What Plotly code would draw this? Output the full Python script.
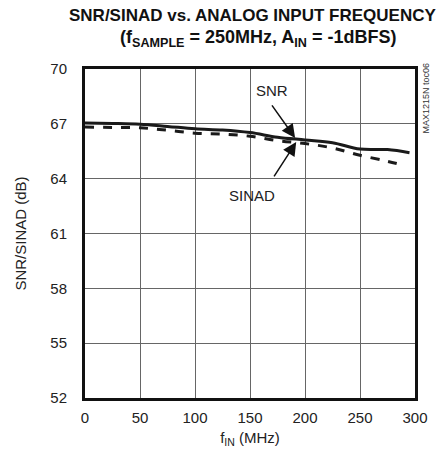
import plotly.graph_objects as go

# Data
freq_snr = [0, 25, 50, 75, 100, 125, 150, 175, 200, 225, 250, 275, 295]
snr = [67.04, 67.02, 66.98, 66.86, 66.73, 66.66, 66.52, 66.27, 66.12, 65.97, 65.62, 65.59, 65.42]
freq_sinad = [0, 25, 50, 75, 100, 125, 150, 175, 200, 225, 250, 275, 290]
sinad = [66.82, 66.80, 66.78, 66.65, 66.49, 66.44, 66.32, 66.08, 65.92, 65.68, 65.28, 64.95, 64.73]
x_ticks = [0, 50, 100, 150, 200, 250, 300]
y_ticks = [52, 55, 58, 61, 64, 67, 70]

FONT = "Liberation Sans, Arial, sans-serif"

fig = go.Figure()
fig.add_trace(go.Scatter(x=freq_snr, y=snr, mode="lines", name="SNR",
                         line=dict(color="#1a1a1a", width=3, shape="spline")))
fig.add_trace(go.Scatter(x=freq_sinad, y=sinad, mode="lines", name="SINAD",
                         line=dict(color="#1a1a1a", width=3, dash="dash", shape="spline")))

# Labels
fig.add_annotation(x=170, y=68.85, text="SNR", showarrow=False,
                   font=dict(family=FONT, size=15, color="#222"))
fig.add_annotation(x=152, y=63.1, text="SINAD", showarrow=False,
                   font=dict(family=FONT, size=15, color="#222"))
# Arrows
fig.add_annotation(x=191, y=66.23, ax=169, ay=68.09, axref="x", ayref="y", xref="x", yref="y",
                   text="", showarrow=True, arrowhead=2, arrowsize=1.8, arrowwidth=1.5,
                   arrowcolor="#111")
fig.add_annotation(x=192, y=66.0, ax=171, ay=64.04, axref="x", ayref="y", xref="x", yref="y",
                   text="", showarrow=True, arrowhead=2, arrowsize=1.8, arrowwidth=1.5,
                   arrowcolor="#111")

# Title
fig.add_annotation(xref="paper", yref="paper", x=0.5, xanchor="center", xshift=2, y=1.0, yshift=54,
                   yanchor="middle", showarrow=False,
                   text="<b>SNR/SINAD vs. ANALOG INPUT FREQUENCY</b>",
                   font=dict(family=FONT, size=17, color="#111"))
fig.add_annotation(xref="paper", yref="paper", x=0.5, xanchor="center", xshift=8, y=1.0, yshift=31,
                   yanchor="middle", showarrow=False,
                   text="<b>(f<sub>SAMPLE</sub> = 250MHz, A<sub>IN</sub> = -1dBFS)</b>",
                   font=dict(family=FONT, size=18, color="#111"))

fig.add_annotation(xref="paper", yref="paper", x=1.0, y=1.0, xshift=10, xanchor="center",
                   yanchor="top", yshift=8,
                   text="MAX1215N toc06", textangle=-90, showarrow=False,
                   font=dict(family=FONT, size=9, color="#333"))

fig.update_layout(
    width=437, height=457,
    margin=dict(l=85, r=22, t=69, b=59),
    paper_bgcolor="white", plot_bgcolor="white",
    showlegend=False,
    font=dict(family=FONT, size=15, color="#222"),
    xaxis=dict(range=[0, 300], tickvals=x_ticks, ticks="", showgrid=True,
               gridcolor="#666", gridwidth=1, zeroline=False,
               showline=True, linecolor="#111", linewidth=3, mirror=True,
               automargin=False, ticklabelstandoff=4,
               title=dict(text="f<sub>IN</sub> (MHz)", standoff=8,
                          font=dict(family=FONT, size=15)),
               tickfont=dict(family=FONT, size=15)),
    yaxis=dict(range=[52, 70], tickvals=y_ticks, ticks="", showgrid=True,
               gridcolor="#666", gridwidth=1, zeroline=False,
               showline=True, linecolor="#111", linewidth=3, mirror=True,
               automargin=False, ticklabelstandoff=12,
               title=dict(text="SNR/SINAD (dB)", standoff=21,
                          font=dict(family=FONT, size=15)),
               tickfont=dict(family=FONT, size=15)),
)

fig.write_html("out.html", post_script="document.body.style.margin='0';",
               config={"displayModeBar": False})
